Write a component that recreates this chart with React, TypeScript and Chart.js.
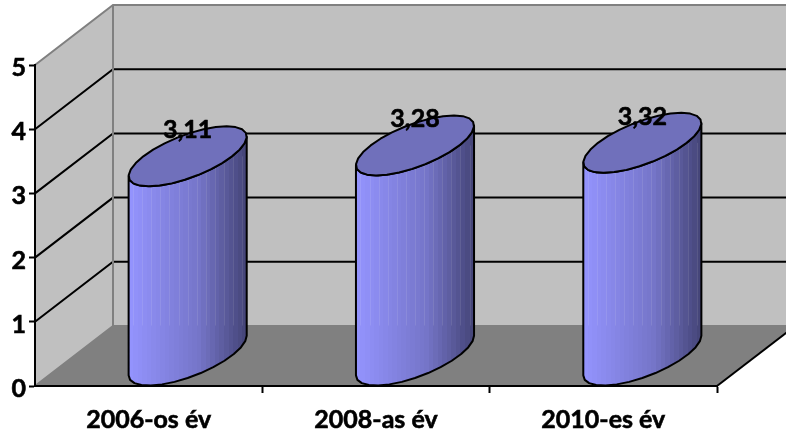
import React, { useEffect, useRef } from "react";
import { Chart, registerables } from "chart.js";

Chart.register(...registerables);

const categories = ["2006-os év", "2008-as év", "2010-es év"];
const seriesValues = [3.11, 3.28, 3.32];
const yTicks = [0, 1, 2, 3, 4, 5];

const DX = 78;
const DY = 60;
const FONT = "Lato, 'Open Sans', sans-serif";
const STRIP_COLORS = 26;

function mix(a: number[], b: number[], t: number) {
  return a.map((v, i) => Math.round(v + (b[i] - v) * t));
}

const wallsPlugin = {
  id: "walls",
  beforeDraw(chart: any) {
    const { ctx, chartArea: a, scales } = chart;
    const y = scales.y;
    // nudge the value-axis labels down a little, as in the reference
    y.getLabelItems(a).forEach((item: any) => { item.textOffset = 3; });
    ctx.save();
    // side wall
    ctx.fillStyle = "#c0c0c0";
    ctx.beginPath();
    ctx.moveTo(a.left, a.top);
    ctx.lineTo(a.left + DX, a.top - DY);
    ctx.lineTo(a.left + DX, a.bottom - DY);
    ctx.lineTo(a.left, a.bottom);
    ctx.closePath();
    ctx.fill();
    // back wall
    ctx.fillRect(a.left + DX, a.top - DY, a.right - a.left, a.bottom - a.top);
    // floor
    ctx.fillStyle = "#808080";
    ctx.beginPath();
    ctx.moveTo(a.left, a.bottom);
    ctx.lineTo(a.left + DX, a.bottom - DY);
    ctx.lineTo(a.right + DX, a.bottom - DY);
    ctx.lineTo(a.right, a.bottom);
    ctx.closePath();
    ctx.fill();
    // gridlines
    ctx.lineWidth = 2;
    ctx.strokeStyle = "#000";
    for (const v of yTicks.slice(1, -1)) {
      const py = y.getPixelForValue(v);
      ctx.beginPath();
      ctx.moveTo(a.left, py);
      ctx.lineTo(a.left + DX, py - DY);
      ctx.lineTo(a.right + DX, py - DY);
      ctx.stroke();
    }
    // wall edges
    ctx.strokeStyle = "#808080";
    ctx.beginPath();
    ctx.moveTo(a.left, a.top);
    ctx.lineTo(a.left + DX, a.top - DY);
    ctx.lineTo(a.right + DX, a.top - DY);
    ctx.moveTo(a.left + DX, a.top - DY);
    ctx.lineTo(a.left + DX, a.bottom - DY);
    ctx.lineTo(a.right + DX, a.bottom - DY);
    ctx.moveTo(a.left + DX, a.bottom - DY);
    ctx.lineTo(a.left, a.bottom);
    ctx.stroke();
    ctx.strokeStyle = "#000";
    ctx.beginPath();
    ctx.moveTo(a.right, a.bottom);
    ctx.lineTo(a.right + DX, a.bottom - DY);
    ctx.stroke();
    ctx.restore();
  },
};

const cylinderPlugin = {
  id: "cylinders",
  beforeDatasetDraw(chart: any) {
    const { ctx } = chart;
    const meta = chart.getDatasetMeta(0);
    const dxh = DX / 2;
    const dyh = DY / 2;
    meta.data.forEach((bar: any, i: number) => {
      const cx = bar.x + dxh;
      const topY = bar.y - dyh;
      const botY = bar.base - dyh;
      const a = bar.width / 2;
      const ext = Math.hypot(a, dxh);
      const pt = (t: number, cy: number) => [
        cx + a * Math.cos(t) + dxh * Math.sin(t),
        cy - dyh * Math.sin(t),
      ];
      const tRight = Math.atan2(dxh, a);
      const tLeft = tRight + Math.PI;
      ctx.save();
      // body
      const grad = ctx.createLinearGradient(cx - ext, 0, cx + ext, 0);
      for (let s = 0; s < STRIP_COLORS; s++) {
        const f = s / (STRIP_COLORS - 1);
        const col = f < 0.6
          ? mix([147, 147, 253], [117, 117, 200], f / 0.6)
          : mix([117, 117, 200], [70, 70, 122], (f - 0.6) / 0.4);
        const c = `rgb(${col[0]},${col[1]},${col[2]})`;
        grad.addColorStop(s / STRIP_COLORS, c);
        grad.addColorStop((s + 1) / STRIP_COLORS, c);
      }
      const N = 14;
      const bodyPath = new Path2D();
      for (let k = 0; k <= N; k++) {
        const t = tRight - (k / N) * Math.PI;
        const [x, yy] = pt(t, topY);
        k === 0 ? bodyPath.moveTo(x, yy) : bodyPath.lineTo(x, yy);
      }
      for (let k = 0; k <= N; k++) {
        const t = tLeft + (k / N) * Math.PI;
        const [x, yy] = pt(t, botY);
        bodyPath.lineTo(x, yy);
      }
      bodyPath.closePath();
      ctx.fillStyle = grad;
      ctx.fill(bodyPath);
      // faint seams between the strips, above the floor's back edge
      ctx.save();
      ctx.clip(bodyPath);
      ctx.strokeStyle = "rgba(255,255,255,0.10)";
      ctx.lineWidth = 1;
      for (let s = 1; s < STRIP_COLORS; s += 2) {
        const x = Math.round(cx - ext + (2 * ext * s) / STRIP_COLORS) + 0.5;
        ctx.beginPath();
        ctx.moveTo(x, topY);
        ctx.lineTo(x, botY - DY / 2);
        ctx.stroke();
      }
      ctx.restore();
      ctx.lineWidth = 2;
      ctx.lineJoin = "round";
      ctx.strokeStyle = "#000";
      ctx.stroke(bodyPath);
      // top cap
      ctx.beginPath();
      for (let k = 0; k < N * 2; k++) {
        const [x, yy] = pt((k / (N * 2)) * Math.PI * 2, topY);
        k === 0 ? ctx.moveTo(x, yy) : ctx.lineTo(x, yy);
      }
      ctx.closePath();
      ctx.fillStyle = "#7070bb";
      ctx.fill();
      ctx.stroke();
      // value label
      const text = String(seriesValues[i]).replace(".", ",");
      ctx.fillStyle = "#000";
      ctx.font = `bold 25px ${FONT}`;
      ctx.textAlign = "center";
      ctx.textBaseline = "middle";
      ctx.lineWidth = 0.6;
      ctx.strokeText(text, cx, topY - 26);
      ctx.fillText(text, cx, topY - 26);
      ctx.restore();
    });
    return false;
  },
};

export default function App() {
  const ref = useRef<HTMLCanvasElement>(null);
  useEffect(() => {
    const chart = new Chart(ref.current as HTMLCanvasElement, {
      type: "bar",
      data: {
        labels: categories,
        datasets: [
          {
            data: seriesValues,
            backgroundColor: "#9999ff",
            borderColor: "#000",
            barPercentage: 0.39,
            categoryPercentage: 1,
          },
        ],
      },
      options: {
        responsive: false,
        animation: false,
        layout: { padding: { top: 65, right: 69, left: 0, bottom: 0 } },
        plugins: { legend: { display: false }, tooltip: { enabled: false } },
        scales: {
          x: {
            afterFit: (s: any) => { s.height = 52; },
            grid: {
              drawOnChartArea: false,
              tickLength: 7,
              tickWidth: 2,
              tickColor: (c: any) => (c.index === 0 ? "rgba(0,0,0,0)" : "#000"),
            },
            border: { color: "#000", width: 2 },
            ticks: {
              color: "#000",
              font: { family: FONT, size: 25, weight: "bold" },
              padding: 12,
              maxRotation: 0,
              textStrokeColor: "#000",
              textStrokeWidth: 0.6,
            },
          },
          y: {
            min: 0,
            max: 5,
            afterFit: (s: any) => { s.width = 35; },
            afterBuildTicks: (s: any) => { s.ticks = yTicks.map((v) => ({ value: v })); },
            grid: { drawOnChartArea: false, tickLength: 6, tickWidth: 2, tickColor: "#000" },
            border: { color: "#000", width: 2 },
            ticks: {
              color: "#000",
              font: { family: FONT, size: 25, weight: "bold" },
              padding: 3,
              textStrokeColor: "#000",
              textStrokeWidth: 0.6,
            },
          },
        },
      },
      plugins: [wallsPlugin, cylinderPlugin],
    } as any);
    return () => chart.destroy();
  }, []);
  return (
    <canvas
      ref={ref}
      width={786}
      height={438}
      style={{ position: "absolute", left: 0, top: 0, display: "block" }}
    />
  );
}
